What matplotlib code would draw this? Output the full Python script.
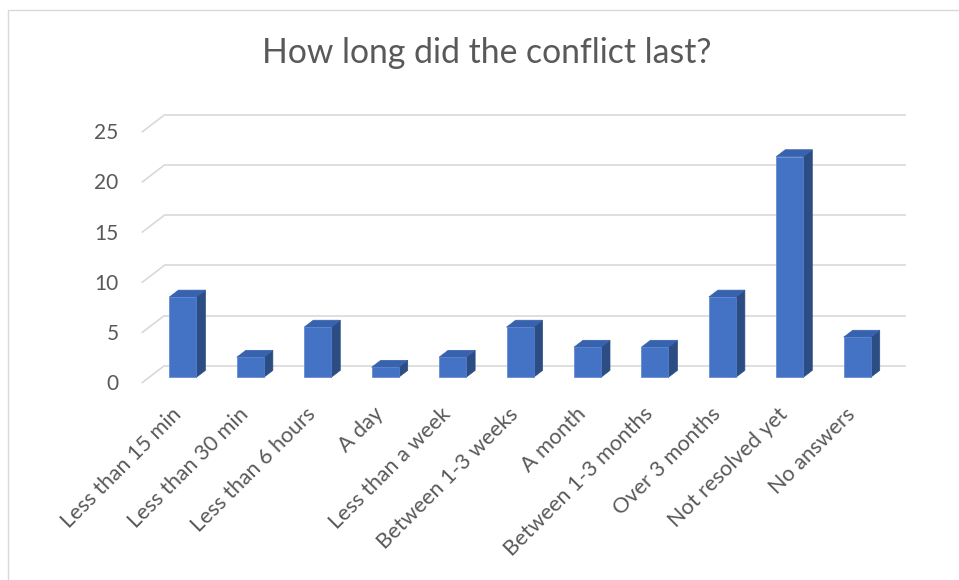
import matplotlib
matplotlib.use("Agg")
import matplotlib.pyplot as plt
from matplotlib.patches import Polygon, Rectangle

categories = ["Less than 15 min", "Less than 30 min", "Less than 6 hours", "A day",
              "Less than a week", "Between 1-3 weeks", "A month", "Between 1-3 months",
              "Over 3 months", "Not resolved yet", "No answers"]
counts = [8, 2, 5, 1, 2, 5, 3, 3, 8, 22, 4]
y_ticks = [0, 5, 10, 15, 20, 25]
title = "How long did the conflict last?"

FONT = "Lato"
TEXT = "#595959"
GRID = "#D9D9D9"
FRONT = "#4472C4"
TOP = "#3762AE"
SIDE = "#2C4C84"

# oblique depth: full depth shifts a point right by DX categories, up by DY units
DX = 0.335
DY = 1.725
F0, F1 = 0.33, 0.73     # bar depth span
BAR_W = 0.40

W, H = 959, 580
fig = plt.figure(figsize=(W / 100, H / 100), dpi=100)

# axes placed so one category = 67.4 px and one unit = 10.03 px
left_px, right_px = 108.0, 950.9
top_px, bot_px = 112.2, 403.06
ax = fig.add_axes([left_px / W, 1 - bot_px / H,
                   (right_px - left_px) / W, (bot_px - top_px) / H])
ax.set_xlim(-1, 11.5)
ax.set_ylim(-2, 27)
ax.axis("off")

n = len(categories)
x_lo, x_hi = -0.5, n - 0.5

# side wall stubs and back wall gridlines
for v in y_ticks:
    ax.plot([x_lo, x_lo + DX], [v, v + DY], color=GRID, lw=1.2,
            solid_capstyle="butt", clip_on=False, zorder=1)
    ax.plot([x_lo + DX, x_hi + DX], [v + DY, v + DY], color=GRID, lw=1.2,
            solid_capstyle="butt", clip_on=False, zorder=1)
    ax.annotate(str(v), xy=(x_lo, v), xytext=(-23, -1), textcoords="offset pixels",
                ha="right", va="center", fontsize=15, color=TEXT, family=FONT,
                annotation_clip=False)

# bars: front face from ax.bar, then top and side faces
xs = list(range(n))
fronts = [x + F0 * DX for x in xs]
ax.bar(fronts, counts, width=BAR_W, bottom=F0 * DY, color=FRONT,
       edgecolor="#5A83CE", linewidth=0.5, zorder=3, clip_on=False)
dd = F1 - F0
for xf, v in zip(fronts, counts):
    xl, xr = xf - BAR_W / 2, xf + BAR_W / 2
    yb, yt = F0 * DY, v + F0 * DY
    side = Polygon([(xr, yb), (xr + dd * DX, yb + dd * DY),
                    (xr + dd * DX, yt + dd * DY), (xr, yt)],
                   closed=True, facecolor=SIDE, edgecolor=SIDE, lw=0.5,
                   zorder=2, clip_on=False)
    top = Polygon([(xl, yt), (xr, yt), (xr + dd * DX, yt + dd * DY),
                   (xl + dd * DX, yt + dd * DY)],
                  closed=True, facecolor=TOP, edgecolor=TOP, lw=0.5,
                  zorder=2, clip_on=False)
    ax.add_patch(side)
    ax.add_patch(top)

# rotated category labels
for xf, lab in zip(fronts, categories):
    ax.annotate(lab, xy=(xf, 0), xytext=(-12, -21), textcoords="offset pixels",
                ha="right", va="top", rotation=45, rotation_mode="anchor",
                fontsize=15.6, color=TEXT, family=FONT, annotation_clip=False)

fig.text(486.5 / W, 1 - 63 / H, title, ha="center", va="baseline",
         fontsize=24.3, color=TEXT, family=FONT)

# chart frame
fig.add_artist(Rectangle((7.5 / W, -0.05), 1.2, 1.05 - 9.5 / H,
                         transform=fig.transFigure, fill=False,
                         edgecolor=GRID, lw=1.0))

fig.savefig("out.png", dpi=100)
